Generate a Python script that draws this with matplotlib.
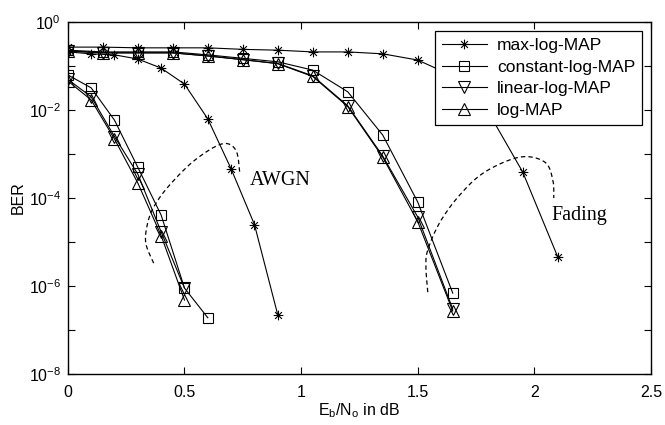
import numpy as np
import matplotlib
matplotlib.use("Agg")
import matplotlib.pyplot as plt
from matplotlib.path import Path

# AWGN channel
x_awgn = [0, 0.1, 0.2, 0.3, 0.4, 0.5]
x_awgn_const = [0, 0.1, 0.2, 0.3, 0.4, 0.5, 0.6]
x_awgn_max = [0, 0.1, 0.2, 0.3, 0.4, 0.5, 0.6, 0.7, 0.8, 0.9]
awgn_max = [0.21, 0.19, 0.18, 0.145, 0.09, 0.039, 6.3e-3, 4.6e-4, 2.5e-5, 2.2e-7]
awgn_const = [0.063, 0.032, 5.9e-3, 5.0e-4, 4.1e-5, 9.0e-7, 1.9e-7]
awgn_lin = [0.05, 0.02, 2.5e-3, 3.5e-4, 1.7e-5, 9.0e-7]
awgn_log = [0.046, 0.017, 2.2e-3, 2.2e-4, 1.4e-5, 4.8e-7]

# Fading channel
x_fad = [0, 0.15, 0.3, 0.45, 0.6, 0.75, 0.9, 1.05, 1.2, 1.35, 1.5, 1.65]
x_fad_max = [0, 0.15, 0.3, 0.45, 0.6, 0.75, 0.9, 1.05, 1.2, 1.35, 1.5,
             1.65, 1.8, 1.95, 2.1]
fad_max = [0.27, 0.27, 0.26, 0.26, 0.26, 0.24, 0.23, 0.21, 0.21, 0.19, 0.137,
           0.06, 9.5e-3, 3.9e-4, 4.6e-6]
fad_const = [0.23, 0.21, 0.21, 0.21, 0.18, 0.15, 0.125, 0.081, 0.026, 2.7e-3,
             8.1e-5, 6.9e-7]
fad_lin = [0.22, 0.2, 0.2, 0.2, 0.17, 0.14, 0.115, 0.06, 0.0125, 9.0e-4,
           3.7e-5, 3.0e-7]
fad_log = [0.22, 0.2, 0.2, 0.2, 0.17, 0.14, 0.113, 0.058, 0.012, 8.5e-4,
           2.9e-5, 2.7e-7]

labels = ['max-log-MAP', 'constant-log-MAP', 'linear-log-MAP', 'log-MAP']

# hand-drawn dashed loops (x in dB, y as decades below 1)
awgn_loop_x = [0.368, 0.334, 0.343, 0.373, 0.437, 0.544, 0.660, 0.720, 0.737]
awgn_loop_d = [5.48, 5.02, 4.55, 4.16, 3.70, 3.14, 2.77, 2.91, 3.43]
fad_loop_x = [1.543, 1.535, 1.543, 1.595, 1.680, 1.787, 1.937, 2.044, 2.079, 2.083]
fad_loop_d = [6.14, 5.57, 5.18, 4.55, 3.93, 3.41, 3.07, 3.18, 3.59, 4.00]

# MATLAB style asterisk marker
star = Path([(-1, 0), (1, 0), (0, -1), (0, 1), (-0.7, -0.7), (0.7, 0.7),
             (-0.7, 0.7), (0.7, -0.7)],
            [Path.MOVETO, Path.LINETO] * 4)

plt.rcParams['font.family'] = ['Liberation Sans', 'DejaVu Sans']
plt.rcParams['mathtext.fontset'] = 'custom'
plt.rcParams['mathtext.rm'] = 'Liberation Sans'
plt.rcParams['mathtext.it'] = 'Liberation Sans'
fig = plt.figure(figsize=(6.65, 4.25), dpi=100)
ax = fig.add_axes([0.102, 0.12, 0.877, 0.828])

lw = 0.8
kw = dict(color='k', lw=lw, mfc='none', mec='k', mew=0.8)
ax.semilogy(x_fad_max, fad_max, marker=star, ms=7, label=labels[0], **kw)
ax.semilogy(x_fad, fad_const, marker='s', ms=7, label=labels[1], **kw)
ax.semilogy(x_fad, fad_lin, marker='v', ms=8, label=labels[2], **kw)
ax.semilogy(x_fad, fad_log, marker='^', ms=8, label=labels[3], **kw)
ax.semilogy(x_awgn_max, awgn_max, marker=star, ms=7, **kw)
ax.semilogy(x_awgn_const, awgn_const, marker='s', ms=7, **kw)
ax.semilogy(x_awgn, awgn_lin, marker='v', ms=8, **kw)
ax.semilogy(x_awgn, awgn_log, marker='^', ms=8, **kw)


def smooth(xs, ds, n=20):
    # Catmull-Rom through the given points
    p = np.column_stack([xs, ds])
    p = np.vstack([p[0], p, p[-1]])
    out = []
    for i in range(1, len(p) - 2):
        p0, p1, p2, p3 = p[i - 1], p[i], p[i + 1], p[i + 2]
        for t in np.linspace(0, 1, n, endpoint=False):
            out.append(0.5 * ((2 * p1) + (-p0 + p2) * t
                              + (2 * p0 - 5 * p1 + 4 * p2 - p3) * t ** 2
                              + (-p0 + 3 * p1 - 3 * p2 + p3) * t ** 3))
    out.append(p[-2])
    out = np.array(out)
    return out[:, 0], 10.0 ** (-out[:, 1])


for lx, ld in [(awgn_loop_x, awgn_loop_d), (fad_loop_x, fad_loop_d)]:
    sx, sy = smooth(lx, ld)
    ax.plot(sx, sy, 'k--', lw=0.9, dashes=(3.5, 2.5))

ax.text(0.78, 10 ** -3.6, 'AWGN', family='Liberation Serif', fontsize=14.5,
        va='center', ha='left')
ax.text(2.075, 10 ** -4.4, 'Fading', family='Liberation Serif', fontsize=14.5,
        va='center', ha='left')

ax.set_xlim(0, 2.5)
ax.set_ylim(1e-8, 1)
ax.set_xticks([0, 0.5, 1, 1.5, 2, 2.5])
ax.set_xticklabels(['0', '0.5', '1', '1.5', '2', '2.5'])
ax.set_yticks([10.0 ** k for k in range(-8, 1)])
ax.set_yticklabels([r'$10^{%d}$' % k if k % 2 == 0 else '' for k in range(-8, 1)])
ax.minorticks_off()
ax.tick_params(direction='in', top=True, right=True, labelsize=11.5, length=5,
               width=0.8)
ax.tick_params(axis='x', pad=8)
ax.tick_params(axis='y', pad=5)
for s in ax.spines.values():
    s.set_linewidth(1.0)

ax.set_xlabel(r'E$_\mathregular{b}$/N$_\mathregular{o}$ in dB', fontsize=11.5,
              labelpad=1)
ax.set_ylabel('BER', fontsize=11.5, labelpad=2)

leg = ax.legend(loc='upper right', fontsize=12.5, frameon=True, fancybox=False,
                edgecolor='k', framealpha=1, borderaxespad=0.5,
                handlelength=2.6, labelspacing=0.38, borderpad=0.4,
                handletextpad=0.6)
leg.get_frame().set_linewidth(0.9)

fig.savefig('out.png', dpi=100)
